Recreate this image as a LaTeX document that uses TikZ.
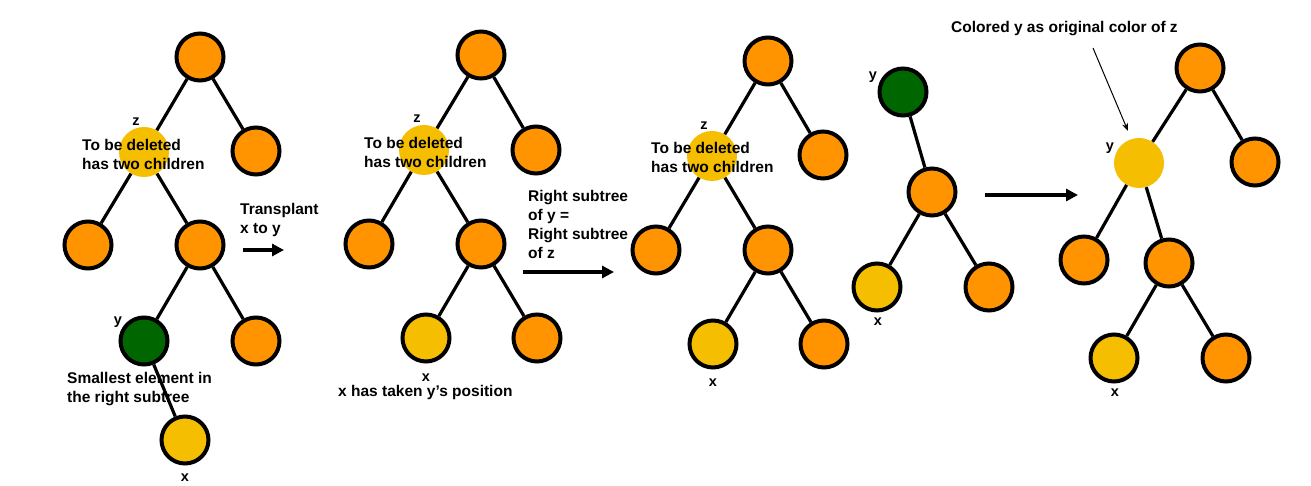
\documentclass[tikz,border=0pt]{standalone}
\usepackage{fontspec}
\setmainfont{Liberation Sans}
\usetikzlibrary{arrows.meta}
\definecolor{nodeorange}{HTML}{FF9300}
\definecolor{nodeyellow}{HTML}{F5BE00}
\definecolor{nodegreen}{HTML}{006600}
\begin{document}
\begin{tikzpicture}[x=1pt,y=-1pt,
  tnode/.style={circle,draw=black,line width=4pt,minimum size=47pt,inner sep=0pt},
  onode/.style={tnode,fill=nodeorange},
  xnode/.style={tnode,fill=nodeyellow},
  gnode/.style={tnode,fill=nodegreen},
  znode/.style={circle,fill=nodeyellow,minimum size=50pt,inner sep=0pt},
  link/.style={line width=3.2pt},
  lbl/.style={font=\bfseries\fontsize{15.5}{19}\selectfont,align=left,anchor=north west,inner sep=0pt},
  letter/.style={font=\bfseries\fontsize{14.5}{16}\selectfont,inner sep=0pt},
  bigarrow/.style={line width=3.4pt,-{Triangle[length=12pt,width=12pt]}},
  thinarrow/.style={line width=1pt,-{Stealth[length=8pt,width=6pt]}}]
\useasboundingbox (0,0) rectangle (1311,486);

% ---------- Tree 1 ----------
\node[onode] (a) at (200,57) {};
\node[onode] (ar) at (256,151) {};
\node[znode] (az) at (144,152) {};
\node[onode] (azl) at (88,245) {};
\node[onode] (azr) at (200,245) {};
\node[gnode] (ay) at (144,341) {};
\node[onode] (ayr) at (256,341) {};
\node[xnode] (ax) at (185,440) {};
\draw[link] (a) -- (ar);
\draw[link] (a) -- (az);
\draw[link] (az) -- (azl);
\draw[link] (az) -- (azr);
\draw[link] (azr) -- (ay);
\draw[link] (azr) -- (ayr);
\draw[link] (ay) -- (ax);
\node[letter] (azlab) at (136,122) {z};
\node[letter] (aylab) at (118,322) {y};
\node[letter] (axlab) at (185,478) {x};
\node[lbl] (atext) at (82,139.5) {To be deleted\\has two children};
\node[lbl] (asmall) at (67,372.5) {Smallest element in\\the right subtree};

% arrow 1
\node[lbl] (trans) at (240,203.5) {Transplant\\x to y};
\coordinate (arr1s) at (243,250);
\coordinate (arr1e) at (284,250);
\draw[bigarrow] (arr1s) -- (arr1e);

% ---------- Tree 2 ----------
\node[onode] (b) at (481,55) {};
\node[onode] (br) at (536,150) {};
\node[znode] (bz) at (424,150) {};
\node[onode] (bzl) at (369,244) {};
\node[onode] (bzr) at (481,244) {};
\node[xnode] (bx) at (426,338) {};
\node[onode] (bxr) at (537,338) {};
\draw[link] (b) -- (br);
\draw[link] (b) -- (bz);
\draw[link] (bz) -- (bzl);
\draw[link] (bz) -- (bzr);
\draw[link] (bzr) -- (bx);
\draw[link] (bzr) -- (bxr);
\node[letter] (bzlab) at (417,119) {z};
\node[letter] (bxlab) at (426,378) {x};
\node[lbl] (btext) at (364,137.5) {To be deleted\\has two children};
\node[lbl] (btaken) at (338,385.5) {x has taken y’s position};

% arrow 2
\node[lbl] (rsub) at (528,190.5) {Right subtree\\of y =\\Right subtree\\of z};
\coordinate (arr2s) at (523,272);
\coordinate (arr2e) at (614,272);
\draw[bigarrow] (arr2s) -- (arr2e);

% ---------- Tree 3 ----------
\node[onode] (c) at (768,61) {};
\node[onode] (cr) at (823,155) {};
\node[znode] (cz) at (712,156) {};
\node[onode] (czl) at (656,250) {};
\node[onode] (czr) at (768,250) {};
\node[xnode] (cx) at (713,344) {};
\node[onode] (cxr) at (824,344) {};
\draw[link] (c) -- (cr);
\draw[link] (c) -- (cz);
\draw[link] (cz) -- (czl);
\draw[link] (cz) -- (czr);
\draw[link] (czr) -- (cx);
\draw[link] (czr) -- (cxr);
\node[letter] (czlab) at (704,126) {z};
\node[letter] (cxlab) at (713,383) {x};
\node[lbl] (ctext) at (651,142.5) {To be deleted\\has two children};

% ---------- Tree 4 ----------
\node[gnode] (dy) at (903,92) {};
\node[onode] (dc) at (932,192) {};
\node[xnode] (dx) at (877,287) {};
\node[onode] (dr) at (989,287) {};
\draw[link] (dy) -- (dc);
\draw[link] (dc) -- (dx);
\draw[link] (dc) -- (dr);
\node[letter] (dylab) at (873,77) {y};
\node[letter] (dxlab) at (878,322) {x};

% arrow 3
\coordinate (arr3s) at (985,195);
\coordinate (arr3e) at (1078,195);
\draw[bigarrow] (arr3s) -- (arr3e);

% ---------- Tree 5 ----------
\node[onode] (e) at (1200,68) {};
\node[onode] (er) at (1255,162) {};
\node[znode] (ey) at (1139,163) {};
\node[onode] (eyl) at (1084,260) {};
\node[onode] (eyr) at (1169,263) {};
\node[xnode] (ex) at (1114,358) {};
\node[onode] (exr) at (1226,358) {};
\draw[link] (e) -- (er);
\draw[link] (e) -- (ey);
\draw[link] (ey) -- (eyl);
\draw[link] (ey) -- (eyr);
\draw[link] (eyr) -- (ex);
\draw[link] (eyr) -- (exr);
\node[letter] (eylab) at (1110,148) {y};
\node[letter] (exlab) at (1115,393) {x};
\node[lbl] (ecol) at (951,21.5) {Colored y as original color of z};
\coordinate (tas) at (1093,48);
\coordinate (tae) at (1128,131);
\draw[thinarrow] (tas) -- (tae);
\end{tikzpicture}
\end{document}
